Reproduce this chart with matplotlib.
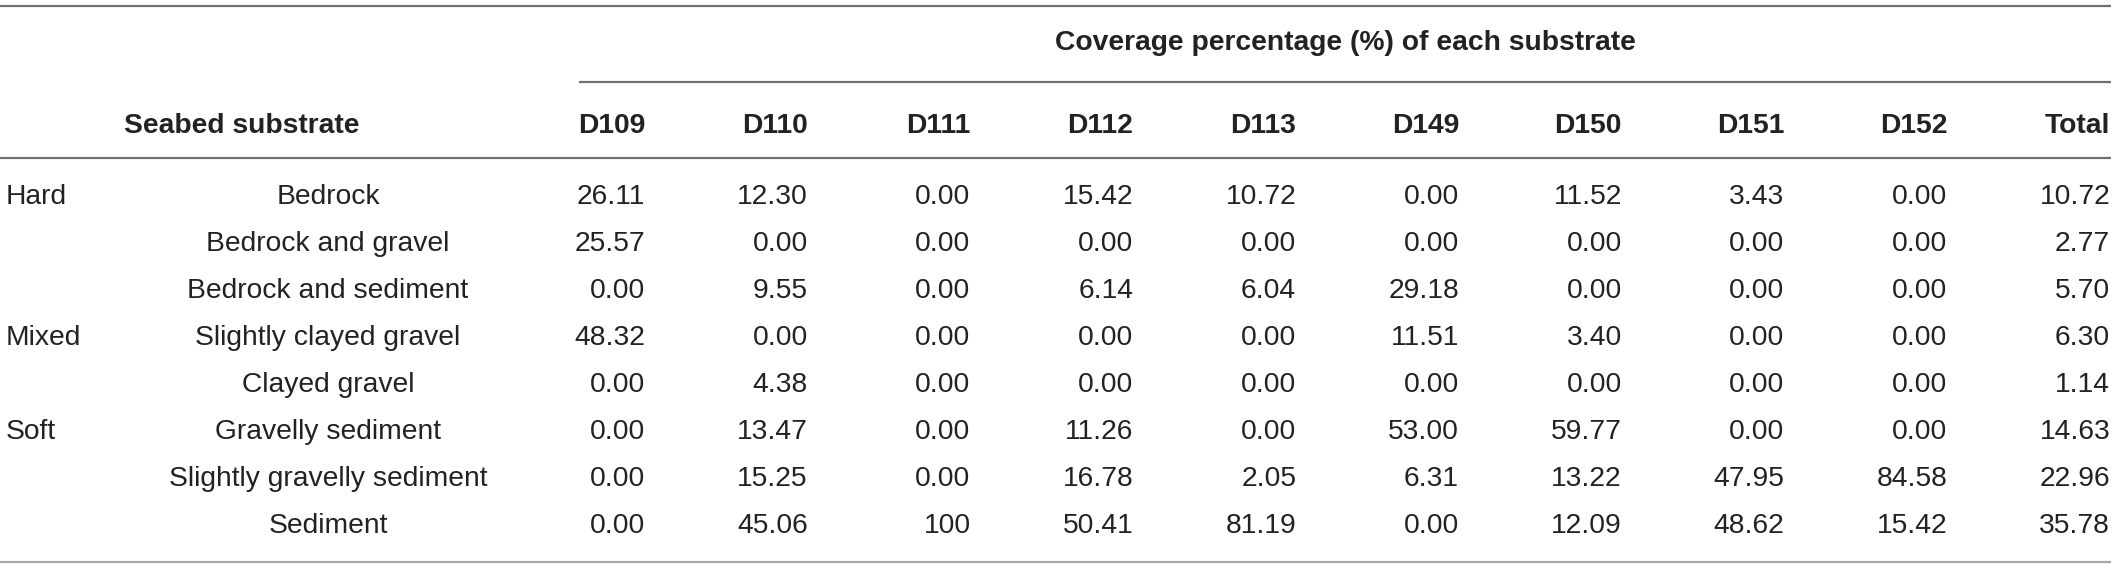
import matplotlib
matplotlib.use("Agg")
import matplotlib.pyplot as plt

# -----------------------------------------
# Table data
# -----------------------------------------
stations = ["D109", "D110", "D111", "D112", "D113", "D149", "D150", "D151", "D152", "Total"]
groups = ["Hard", "", "", "Mixed", "", "Soft", "", ""]
substrates = [
    "Bedrock",
    "Bedrock and gravel",
    "Bedrock and sediment",
    "Slightly clayed gravel",
    "Clayed gravel",
    "Gravelly sediment",
    "Slightly gravelly sediment",
    "Sediment",
]
coverage = [
    ["26.11", "12.30", "0.00", "15.42", "10.72", "0.00", "11.52", "3.43", "0.00", "10.72"],
    ["25.57", "0.00", "0.00", "0.00", "0.00", "0.00", "0.00", "0.00", "0.00", "2.77"],
    ["0.00", "9.55", "0.00", "6.14", "6.04", "29.18", "0.00", "0.00", "0.00", "5.70"],
    ["48.32", "0.00", "0.00", "0.00", "0.00", "11.51", "3.40", "0.00", "0.00", "6.30"],
    ["0.00", "4.38", "0.00", "0.00", "0.00", "0.00", "0.00", "0.00", "0.00", "1.14"],
    ["0.00", "13.47", "0.00", "11.26", "0.00", "53.00", "59.77", "0.00", "0.00", "14.63"],
    ["0.00", "15.25", "0.00", "16.78", "2.05", "6.31", "13.22", "47.95", "84.58", "22.96"],
    ["0.00", "45.06", "100", "50.41", "81.19", "0.00", "12.09", "48.62", "15.42", "35.78"],
]
span_title = "Coverage percentage (%) of each substrate"
stub_title = "Seabed substrate"

# -----------------------------------------
# Layout (pixel units)
# -----------------------------------------
W, H = 2117, 567
FS = 20.3
TXT = "#222222"
LINE = "#707070"

col_right0, col_step = 645, 162.8
name_center = 328
group_left = 6
row_base0, row_step = 204, 47.0
head_base = 133
span_base = 50

fig = plt.figure(figsize=(W / 100, H / 100), dpi=100)
ax = fig.add_axes([0, 0, 1, 1])
ax.set_xlim(0, W)
ax.set_ylim(H, 0)
ax.axis("off")

font = dict(family=["Liberation Sans", "DejaVu Sans"], fontsize=FS, color=TXT)

# rules
ax.plot([0, 2111], [6, 6], color=LINE, lw=1.6, solid_capstyle="butt")
ax.plot([579, 2111], [82, 82], color=LINE, lw=1.6, solid_capstyle="butt")
ax.plot([0, 2111], [158, 158], color=LINE, lw=1.6, solid_capstyle="butt")
ax.plot([0, 2111], [562, 562], color="#a8a8a8", lw=1.6, solid_capstyle="butt")

# header
ax.text((579 + 2111) / 2, span_base, span_title, ha="center", va="baseline",
        fontweight="bold", **font)
ax.text(242, head_base, stub_title, ha="center", va="baseline", fontweight="bold", **font)
for j, st in enumerate(stations):
    ax.text(col_right0 + j * col_step, head_base, st, ha="right", va="baseline",
            fontweight="bold", **font)

# body
for i, name in enumerate(substrates):
    y = row_base0 + i * row_step
    if groups[i]:
        ax.text(group_left, y, groups[i], ha="left", va="baseline", **font)
    ax.text(name_center, y, name, ha="center", va="baseline", **font)
    for j, val in enumerate(coverage[i]):
        ax.text(col_right0 + j * col_step, y, val, ha="right", va="baseline", **font)

fig.savefig("out.png", dpi=100, facecolor="white")
